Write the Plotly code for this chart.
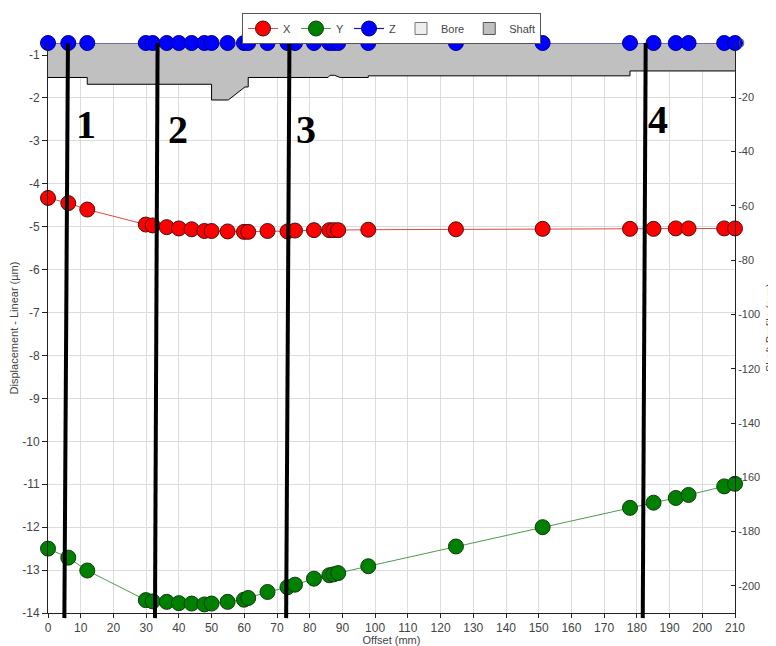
import plotly.graph_objects as go

# ---- data ----
offset_mm = [0, 6.2, 12.0, 29.9, 32.0, 36.3, 40.0, 43.9, 47.8, 50.0, 54.9, 59.9, 61.2,
             67.1, 73.2, 75.5, 81.3, 86.0, 87.3, 88.7, 97.9, 124.7, 151.2, 177.9,
             185.1, 191.9, 195.8, 206.7, 210.0]
x_disp = [-4.33, -4.45, -4.60, -4.95, -4.97, -5.01, -5.04, -5.06, -5.10, -5.10, -5.11,
          -5.12, -5.12, -5.10, -5.11, -5.09, -5.08, -5.08, -5.08, -5.08, -5.07, -5.06,
          -5.05, -5.05, -5.05, -5.04, -5.04, -5.04, -5.04]
y_disp = [-12.50, -12.71, -13.01, -13.70, -13.73, -13.74, -13.77, -13.78, -13.80, -13.78,
          -13.74, -13.69, -13.65, -13.51, -13.40, -13.34, -13.20, -13.12, -13.10, -13.07,
          -12.91, -12.45, -12.00, -11.55, -11.43, -11.32, -11.25, -11.05, -10.99]
z_disp = [0] * len(offset_mm)

shaft_x = [0, 12.0, 12.0, 50.0, 50.0, 55.1, 60.2, 61.2, 61.2, 85.6, 86.2, 87.6, 89.3,
           97.9, 97.9, 177.9, 177.9, 210.0]
shaft_r = [-12.7, -12.7, -15.2, -15.2, -21.0, -21.0, -16.2, -16.2, -12.7, -12.7, -11.9,
           -11.9, -12.7, -12.7, -12.1, -12.1, -10.3, -10.3]

# tick labels (ASCII hyphen minus, as in the reference)
left_tick_vals = [-1, -2, -3, -4, -5, -6, -7, -8, -9, -10, -11, -12, -13, -14]
left_tick_text = ["-1", "-2", "-3", "-4", "-5", "-6", "-7", "-8", "-9", "-10", "-11",
                  "-12", "-13", "-14"]
right_tick_vals = [0, -20, -40, -60, -80, -100, -120, -140, -160, -180, -200]
right_tick_text = ["0", "-20", "-40", "-60", "-80", "-100", "-120", "-140", "-160",
                   "-180", "-200"]

marker_labels = ["1", "2", "3", "4"]
marker_top = [6.1, 33.5, 73.8, 182.7]
marker_bottom = [5.0, 32.7, 72.8, 181.8]
label_x = [11.6, 39.7, 79.0, 186.6]
label_y = [0.900, 0.891, 0.892, 0.908]

font_family = "Liberation Sans, Arial, sans-serif"

fig = go.Figure()

# shaft profile (right axis)
fig.add_trace(go.Scatter(
    x=shaft_x, y=shaft_r, yaxis="y2", name="Shaft", mode="lines",
    line=dict(color="black", width=1), fill="tozeroy", fillcolor="#c0c0c0",
    showlegend=False, hoverinfo="skip"))

fig.add_trace(go.Scatter(
    x=offset_mm, y=z_disp, yaxis="y2", name="Z", mode="lines+markers",
    line=dict(color="#1a1aa0", width=1.2),
    marker=dict(color="#0000ff", size=15, line=dict(color="#00008b", width=1)),
    cliponaxis=False, legendrank=3))
fig.add_trace(go.Scatter(
    x=offset_mm, y=x_disp, name="X", mode="lines+markers",
    line=dict(color="#e04848", width=1),
    marker=dict(color="#ff0000", size=15, line=dict(color="#4a1010", width=1)),
    cliponaxis=False, legendrank=1))
fig.add_trace(go.Scatter(
    x=offset_mm, y=y_disp, name="Y", mode="lines+markers",
    line=dict(color="#4f9a4f", width=1),
    marker=dict(color="#008000", size=15, line=dict(color="#103a10", width=1)),
    cliponaxis=False, legendrank=2))
# legend entries for the profile areas
fig.add_trace(go.Scatter(
    x=[None], y=[None], yaxis="y2", name="Bore", mode="markers",
    marker=dict(symbol="square", size=12, color="#eeeeee",
                line=dict(color="#777777", width=1)),
    legendrank=4))
fig.add_trace(go.Scatter(
    x=[None], y=[None], yaxis="y2", name="Shaft", mode="markers",
    marker=dict(symbol="square", size=12, color="#c0c0c0",
                line=dict(color="#555555", width=1)),
    legendrank=5))

shapes = []
for x0, x1 in zip(marker_bottom, marker_top):
    shapes.append(dict(type="line", xref="x", yref="paper", x0=x0, x1=x1,
                       y0=-0.009, y1=1.0, line=dict(color="black", width=4)))

annotations = []
for t, ax, ay in zip(marker_labels, label_x, label_y):
    annotations.append(dict(text="<b>%s</b>" % t, x=ax, y=ay, xref="x", yref="paper",
                            showarrow=False,
                            font=dict(family="Liberation Serif, Times New Roman, serif",
                                      size=40, color="black")))
annotations.append(dict(text="Shaft Profile (mm)", x=1.0510, y=0.5, xref="paper",
                        yref="paper", showarrow=False, textangle=-90,
                        xanchor="center", yanchor="middle",
                        font=dict(size=11, color="#444444")))

# page body has an 8px default margin, so the figure is 8px smaller than the window
fig.update_layout(
    width=768, height=638,
    margin=dict(l=40, r=41, t=35, b=33, autoexpand=False),
    paper_bgcolor="white", plot_bgcolor="white",
    font=dict(family=font_family, size=12, color="#444444"),
    showlegend=True,
    legend=dict(orientation="h", x=0.5, xanchor="center", xref="paper",
                y=1 - 5 / 638, yref="container", yanchor="top",
                bordercolor="#555555", borderwidth=1, bgcolor="white",
                font=dict(size=11, color="#444444"), itemwidth=30,
                tracegroupgap=0),
    xaxis=dict(range=[0, 210], dtick=10, tick0=0, showgrid=True, gridcolor="#dcdcdc",
               showline=True, linecolor="#222222", linewidth=1, ticks="outside",
               ticklen=4, tickcolor="#222222", zeroline=False,
               title=dict(text="Offset (mm)", font=dict(size=11), standoff=2)),
    yaxis=dict(range=[-14, -0.72], tickmode="array", tickvals=left_tick_vals,
               ticktext=left_tick_text, showgrid=True, gridcolor="#dcdcdc",
               showline=True, linecolor="#222222", linewidth=1, ticks="outside",
               ticklen=5, tickcolor="#222222", zeroline=False, layer="above traces",
               title=dict(text="Displacement - Linear (µm)", font=dict(size=11), standoff=4)),
    yaxis2=dict(range=[-210, 0], tickmode="array", tickvals=right_tick_vals,
                ticktext=right_tick_text, overlaying="y", side="right",
                showgrid=False, showline=True, linecolor="#222222", linewidth=1,
                ticks="inside", ticklen=4, tickcolor="#222222", zeroline=False,
                tickfont=dict(size=11)),
    shapes=shapes,
    annotations=annotations,
)

fig.write_html("out.html")
